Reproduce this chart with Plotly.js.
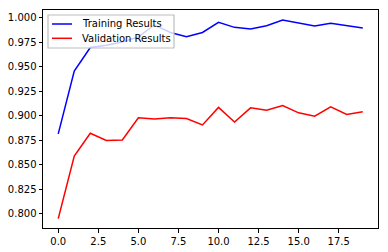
<!DOCTYPE html>
<html>
<head>
<meta charset="utf-8">
<script src="https://cdn.plot.ly/plotly-3.0.1.min.js"></script>
<style>html,body{margin:0;padding:0;background:#fff;}#chart{width:388px;height:252px;}</style>
</head>
<body>
<div id="chart"></div>
<script>
const epochs = [0,1,2,3,4,5,6,7,8,9,10,11,12,13,14,15,16,17,18,19];
const trainingResults = [0.8816,0.9456,0.9697,0.9720,0.9752,0.9805,0.9926,0.9850,0.9806,0.9850,0.9953,0.9902,0.9885,0.9918,0.9977,0.9943,0.9915,0.9943,0.9918,0.9895];
const validationResults = [0.7953,0.8589,0.8823,0.8749,0.8755,0.8980,0.8969,0.8980,0.8973,0.8907,0.9086,0.8938,0.9082,0.9058,0.9106,0.9031,0.8997,0.9092,0.9014,0.9041];
const seriesNames = ['Training Results','Validation Results'];
const seriesColors = ['#0000ff','#ff0000'];
const xTickVals = [0,2.5,5,7.5,10,12.5,15,17.5];
const yTickVals = [0.800,0.825,0.850,0.875,0.900,0.925,0.950,0.975,1.000];

const W = 388, H = 252;
const M = {l: 43, r: 10, t: 10, b: 24};
const PW = W - M.l - M.r, PH = H - M.t - M.b;
// pixel -> paper helpers (legend placement only)
const px = v => (v - M.l) / PW;
const py = v => (H - M.b - v) / PH;

const traces = seriesNames.map((name, i) => ({
  x: epochs, y: i === 0 ? trainingResults : validationResults, name: name,
  type: 'scatter', mode: 'lines', line: {color: seriesColors[i], width: 1.5}, showlegend: false
}));

const rowY = [24, 38.3];
const shapes = [
  {type: 'rect', xref: 'paper', yref: 'paper', x0: px(48), x1: px(174), y0: py(48), y1: py(15),
   fillcolor: 'rgba(255,255,255,0.8)', line: {color: '#bdbdbd', width: 1.2}, layer: 'above'}
].concat(seriesNames.map((n, i) => ({
  type: 'line', xref: 'paper', yref: 'paper', x0: px(52), x1: px(72), y0: py(rowY[i]), y1: py(rowY[i]),
  line: {color: seriesColors[i], width: 1.5}, layer: 'above'
})));
const annotations = seriesNames.map((n, i) => ({
  xref: 'paper', yref: 'paper', x: px(79.5), y: py(rowY[i]), xanchor: 'left', yanchor: 'middle',
  text: n, showarrow: false, font: {family: 'DejaVu Sans', size: 10, color: '#000'}
}));

const axisCommon = {
  showgrid: false, zeroline: false, showline: true, linecolor: '#000', linewidth: 1, mirror: true,
  ticks: 'outside', ticklen: 3.5, tickwidth: 1, tickcolor: '#000',
  tickfont: {family: 'DejaVu Sans', size: 10, color: '#000'}
};
const layout = {
  width: W, height: H,
  margin: {l: M.l, r: M.r, t: M.t, b: M.b, pad: 0},
  paper_bgcolor: '#fff', plot_bgcolor: '#fff',
  showlegend: false,
  shapes: shapes, annotations: annotations,
  xaxis: Object.assign({}, axisCommon, {range: [-0.95, 19.95], tickmode: 'array', tickvals: xTickVals, ticktext: xTickVals.map(v => v.toFixed(1))}),
  yaxis: Object.assign({}, axisCommon, {range: [0.7857, 1.0079], tickmode: 'array', tickvals: yTickVals, ticktext: yTickVals.map(v => v.toFixed(3))})
};
Plotly.newPlot('chart', traces, layout, {staticPlot: true, displayModeBar: false});
</script>
</body>
</html>
